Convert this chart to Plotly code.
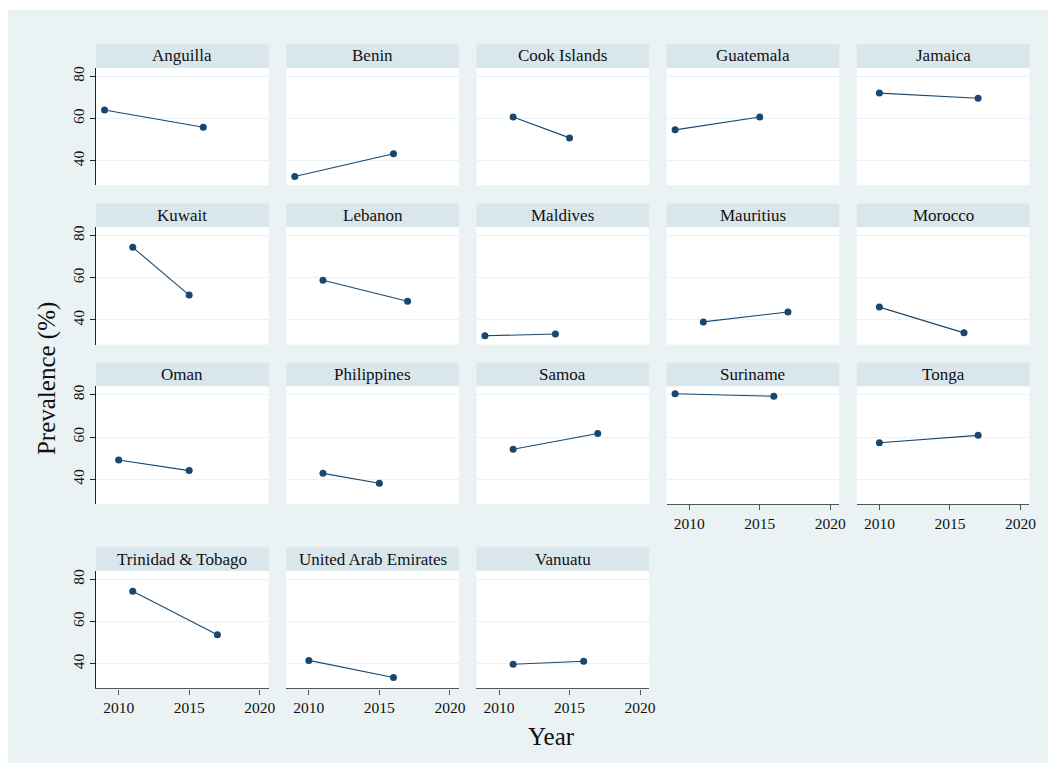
import plotly.graph_objects as go

countries = ["Anguilla", "Benin", "Cook Islands", "Guatemala", "Jamaica",
             "Kuwait", "Lebanon", "Maldives", "Mauritius", "Morocco",
             "Oman", "Philippines", "Samoa", "Suriname", "Tonga",
             "Trinidad & Tobago", "United Arab Emirates", "Vanuatu"]
year_first = [2009, 2009, 2011, 2009, 2010,
              2011, 2011, 2009, 2011, 2010,
              2010, 2011, 2011, 2009, 2010,
              2011, 2010, 2011]
year_second = [2016, 2016, 2015, 2015, 2017,
               2015, 2017, 2014, 2017, 2016,
               2015, 2015, 2017, 2016, 2017,
               2017, 2016, 2016]
prev_first = [64.0, 32.5, 60.7, 54.6, 72.0,
              74.4, 58.8, 32.5, 39.1, 46.1,
              49.1, 42.8, 54.2, 80.5, 57.3,
              74.3, 41.6, 39.8]
prev_second = [55.8, 43.3, 50.8, 60.7, 69.6,
               51.8, 48.9, 33.4, 43.8, 33.9,
               44.1, 38.1, 61.7, 79.3, 60.8,
               53.8, 33.5, 41.2]
x_ticks = [2010, 2015, 2020]
y_ticks = [40, 60, 80]

W, H = 1056, 770
OFF = 8          # page body margin of the browser
W_EFF = 1048     # rendered horizontal extent of the paper
BG = "#EAF2F3"
STRIP = "#D9E6EB"
NAVY = "#1A476F"
FONT = "Liberation Serif"

ncol = 5
col_left = [96 + c * 190 for c in range(ncol)]
col_w = 172.5
strip_top = [42.3, 202.0, 361.7, 546.7]
strip_h = 23.5
plot_h = 118.0

def px_x(v):
    return (v - OFF) / W_EFF

def px_y(v):
    return 1 - (v - OFF) / H

fig = go.Figure()
shapes = [dict(type="rect", xref="paper", yref="paper",
               x0=0, x1=px_x(1049), y0=px_y(763), y1=1,
               fillcolor=BG, line=dict(width=0), layer="below")]
annotations = []
n = len(countries)
for i, name in enumerate(countries):
    r, c = divmod(i, ncol)
    idx = i + 1
    xa = "xaxis" if idx == 1 else f"xaxis{idx}"
    ya = "yaxis" if idx == 1 else f"yaxis{idx}"
    xref = "x" if idx == 1 else f"x{idx}"
    yref = "y" if idx == 1 else f"y{idx}"
    left = col_left[c]
    right = left + col_w
    top = strip_top[r] + strip_h
    bottom = top + plot_h
    is_bottom = i + ncol >= n
    is_left = c == 0
    fig.add_trace(go.Scatter(
        x=[year_first[i], year_second[i]], y=[prev_first[i], prev_second[i]],
        mode="lines+markers", xaxis=xref, yaxis=yref,
        line=dict(color=NAVY, width=1.1),
        marker=dict(color=NAVY, size=7), showlegend=False,
        hoverinfo="x+y"))
    fig.layout[xa] = dict(
        domain=[px_x(left), min(px_x(right), 1)], anchor=yref,
        range=[2008.4, 2020.64], tickvals=x_ticks,
        showticklabels=is_bottom, ticks="outside" if is_bottom else "",
        ticklen=5, tickcolor="#555555",
        showline=is_bottom, linecolor="#555555", linewidth=1.3,
        showgrid=False, zeroline=False,
        tickfont=dict(family=FONT, size=15.5, color="#111111"))
    fig.layout[ya] = dict(
        domain=[px_y(bottom), px_y(top)], anchor=xref,
        range=[28.33, 84.06], tickvals=y_ticks,
        showticklabels=is_left, ticks="outside" if is_left else "",
        ticklen=5, tickcolor="#222222", tickangle=-90,
        showline=is_left, linecolor="#222222", linewidth=1.3,
        showgrid=True, gridcolor=BG, gridwidth=1.2, zeroline=False,
        tickfont=dict(family=FONT, size=15.5, color="#111111"))
    shapes.append(dict(type="rect", xref="paper", yref="paper",
                       x0=px_x(left), x1=px_x(right),
                       y0=px_y(bottom), y1=px_y(top),
                       fillcolor="white", line=dict(width=0), layer="below"))
    shapes.append(dict(type="rect", xref="paper", yref="paper",
                       x0=px_x(left), x1=px_x(right),
                       y0=px_y(top), y1=px_y(strip_top[r]),
                       fillcolor=STRIP, line=dict(width=0), layer="below"))
    annotations.append(dict(text=name, xref="paper", yref="paper",
                            x=px_x(left + col_w / 2),
                            y=px_y(strip_top[r] + strip_h / 2),
                            xanchor="center", yanchor="middle", showarrow=False,
                            font=dict(family=FONT, size=17, color="#111111")))

annotations.append(dict(text="Year", xref="paper", yref="paper",
                        x=px_x(551), y=px_y(736), xanchor="center", yanchor="middle",
                        showarrow=False, font=dict(family=FONT, size=25, color="#111111")))
annotations.append(dict(text="Prevalence (%)", xref="paper", yref="paper",
                        x=px_x(47), y=px_y(378), xanchor="center", yanchor="middle",
                        textangle=-90, showarrow=False,
                        font=dict(family=FONT, size=25, color="#111111")))

fig.update_layout(width=W, height=H, margin=dict(l=0, r=0, t=0, b=0),
                  paper_bgcolor="white", plot_bgcolor="rgba(0,0,0,0)",
                  shapes=shapes, annotations=annotations,
                  font=dict(family=FONT))
fig.write_html("out.html")
